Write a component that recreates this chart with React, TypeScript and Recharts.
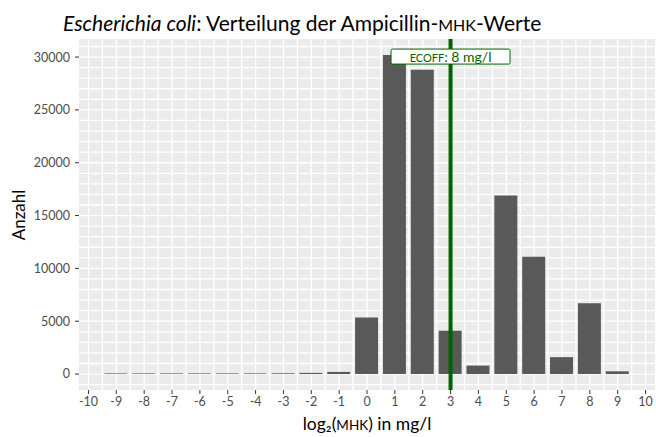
import React from 'react';
import {
  ComposedChart,
  Bar,
  XAxis,
  YAxis,
  CartesianGrid,
  ReferenceLine,
  ReferenceDot,
} from 'recharts';

// log2(MIC) classes and number of isolates
const LOG2_MIC = [-9, -8, -7, -6, -5, -4, -3, -2, -1, 0, 1, 2, 3, 4, 5, 6, 7, 8, 9];
const COUNTS = [60, 60, 60, 60, 60, 60, 70, 110, 200, 5350, 30200, 28800, 4100, 800, 16900, 11100, 1600, 6700, 260];

const X_TICKS = [-10, -9, -8, -7, -6, -5, -4, -3, -2, -1, 0, 1, 2, 3, 4, 5, 6, 7, 8, 9, 10];
const Y_TICKS = [0, 5000, 10000, 15000, 20000, 25000, 30000];

const ECOFF_LOG2 = 3;
const ECOFF_LABEL_Y = 30000;

const X_DOMAIN: [number, number] = [-10.34, 10.34];
const Y_DOMAIN: [number, number] = [-1510, 31710];

// grid every 0.5 on x, every 1000 on y
const GRID_X = Array.from({ length: 41 }, (_, i) => -10 + i * 0.5);
const GRID_Y = Array.from({ length: 33 }, (_, i) => -1000 + i * 1000);

const data = LOG2_MIC.map((x, i) => ({ x, n: COUNTS[i] }));

const FONT = 'Lato, "Open Sans", sans-serif';
const GREEN = '#006400';

function linear(domain: [number, number], start: number, size: number, invert: boolean) {
  return (v: number) => {
    const t = (v - domain[0]) / (domain[1] - domain[0]);
    return invert ? start + size - t * size : start + t * size;
  };
}

const vGen = (props: any) => {
  const { xAxis, offset } = props;
  const s =
    xAxis && typeof xAxis.scale === 'function'
      ? xAxis.scale
      : linear(X_DOMAIN, offset.left, offset.width, false);
  return GRID_X.map((v) => s(v));
};

const hGen = (props: any) => {
  const { yAxis, offset } = props;
  const s =
    yAxis && typeof yAxis.scale === 'function'
      ? yAxis.scale
      : linear(Y_DOMAIN, offset.top, offset.height, true);
  return GRID_Y.map((v) => s(v));
};

const EcoffLabel = (props: any) => {
  const { cx, cy } = props;
  if (cx == null || cy == null) return null;
  const w = 119;
  const h = 15;
  return (
    <g>
      <rect x={cx - w / 2} y={cy - h / 2 - 0.5} width={w} height={h} rx={1.5} fill="#fff" stroke={GREEN} strokeWidth={1} />
      <text x={cx} y={cy + 4.5} textAnchor="middle" fill={GREEN} fontFamily={FONT} fontSize={14}>
        <tspan fontSize={11}>ECOFF</tspan>: 8 mg/l
      </text>
    </g>
  );
};

export default function App() {
  return (
    <div style={{ position: 'absolute', left: 0, top: 0, width: 656, height: 437, background: '#fff', fontFamily: FONT }}>
      <ComposedChart width={656} height={437} data={data} margin={{ top: 39, right: 1, bottom: 0, left: 0 }}>
        <CartesianGrid
          fill="#ebebeb"
          stroke="#ffffff"
          strokeWidth={1.3}
          verticalCoordinatesGenerator={vGen}
          horizontalCoordinatesGenerator={hGen}
        />
        <XAxis
          dataKey="x"
          type="number"
          domain={X_DOMAIN}
          ticks={X_TICKS}
          interval={0}
          allowDataOverflow
          height={47}
          tickSize={4}
          tickMargin={3}
          axisLine={false}
          tickLine={{ stroke: '#333333' }}
          tick={{ fill: '#4d4d4d', fontSize: 12.5, fontFamily: FONT }}
        />
        <YAxis
          type="number"
          domain={Y_DOMAIN}
          ticks={Y_TICKS}
          interval={0}
          allowDataOverflow
          width={79}
          tickSize={4}
          tickMargin={5}
          axisLine={false}
          tickLine={{ stroke: '#333333' }}
          tick={{ fill: '#4d4d4d', fontSize: 12.5, fontFamily: FONT }}
        />
        <Bar dataKey="n" fill="#595959" barSize={23} isAnimationActive={false} />
        <ReferenceLine x={ECOFF_LOG2} stroke={GREEN} strokeWidth={4} />
        <ReferenceDot x={ECOFF_LOG2} y={ECOFF_LABEL_Y} shape={EcoffLabel} />
      </ComposedChart>
      <svg width={656} height={437} style={{ position: 'absolute', left: 0, top: 0, pointerEvents: 'none' }}>
        <text x={63} y={31} fontSize={21} fill="#000" fontFamily={FONT}>
          <tspan fontStyle="italic">Escherichia coli</tspan>: Verteilung der Ampicillin-
          <tspan fontSize={16}>MHK</tspan>-Werte
        </text>
        <text transform="translate(25,215) rotate(-90)" textAnchor="middle" fontSize={17} fill="#000" fontFamily={FONT}>
          Anzahl
        </text>
        <text x={367} y={430} textAnchor="middle" fontSize={17.5} fill="#000" fontFamily={FONT}>
          log₂(<tspan fontSize={13.5}>MHK</tspan>) in mg/l
        </text>
      </svg>
    </div>
  );
}
